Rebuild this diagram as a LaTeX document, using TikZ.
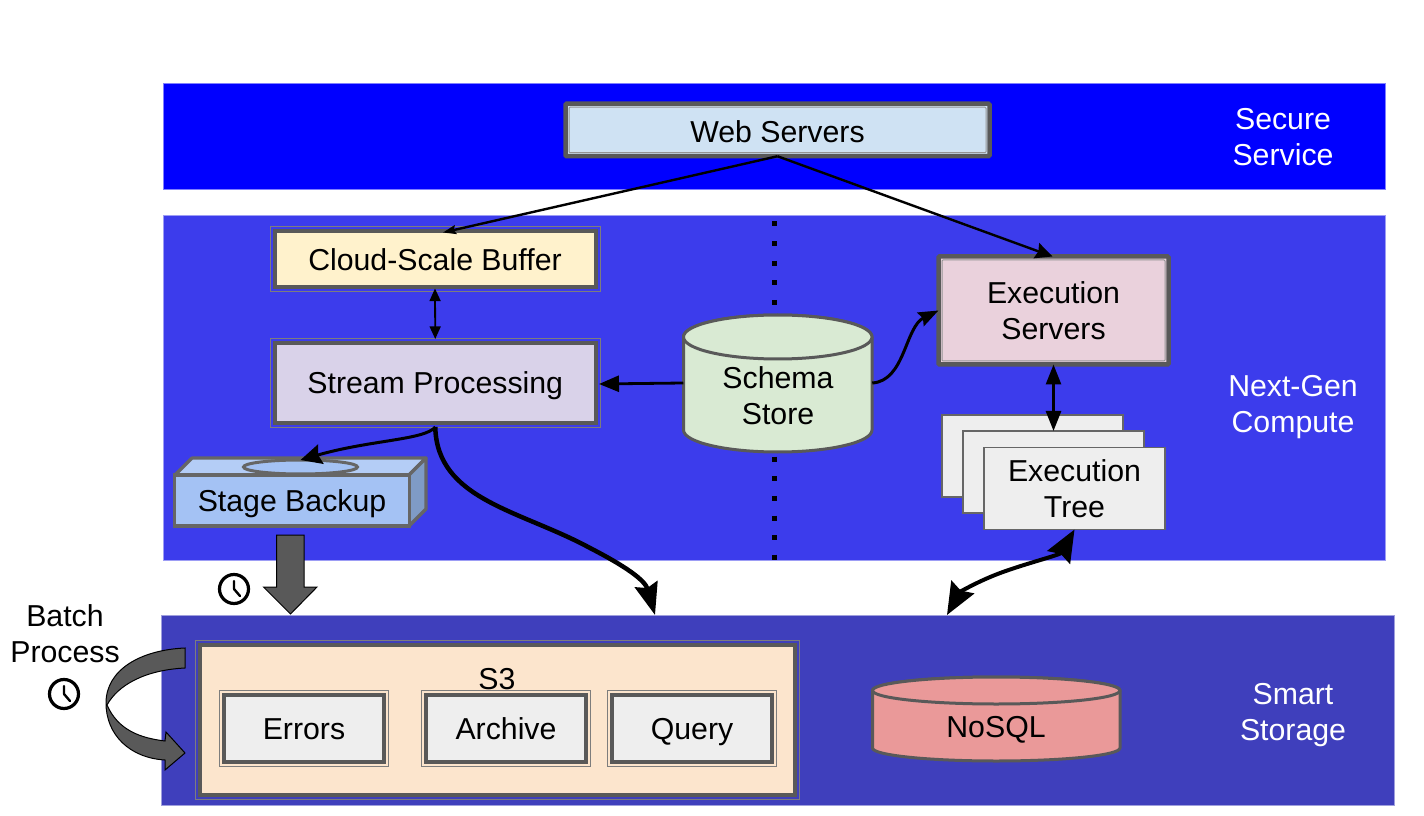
\documentclass[tikz,border=0pt]{standalone}
\usepackage{fontspec}
\setmainfont{Liberation Sans}
\usetikzlibrary{arrows.meta,shapes.geometric}
\newdimen\px \px=0.75pt
\definecolor{dgrey}{HTML}{595959}
\definecolor{mgrey}{HTML}{666666}
\definecolor{layerA}{HTML}{0000FF}
\definecolor{layerB}{HTML}{3C3CEC}
\definecolor{layerC}{HTML}{3F3FBC}
\definecolor{webc}{HTML}{CFE2F3}
\definecolor{cloudc}{HTML}{FFF2CC}
\definecolor{streamc}{HTML}{D9D2E9}
\definecolor{schemac}{HTML}{D9EAD3}
\definecolor{execc}{HTML}{EAD1DC}
\definecolor{treec}{HTML}{EEEEEE}
\definecolor{stagec}{HTML}{A4C2F4}
\definecolor{stagetop}{HTML}{B4CDF6}
\definecolor{stageside}{HTML}{7F9BC6}
\definecolor{sthreec}{HTML}{FCE5CD}
\definecolor{nosqlc}{HTML}{EA9999}
\tikzset{
  x=0.75pt,y=-0.75pt,
  txt/.style={font=\fontsize{22.7}{27}\selectfont,align=center,text=black,inner sep=0pt,outer sep=0pt},
  oneline/.style={text height=22\px,text depth=0pt},
  layer/.style={rectangle,inner sep=0pt,outer sep=0pt,draw=white!50!#1,line width=0.8\px,fill=#1},
  laytext/.style={txt,text=white},
  thickout/.style={txt,rectangle,draw=dgrey,line width=4.5\px,rounded corners=1\px,
    path picture={\draw[draw=#1,line width=3\px]
      (path picture bounding box.north west) rectangle (path picture bounding box.south east);
      \draw[draw=mgrey!70,line width=1\px]
      ([shift={(3.5\px,-3.5\px)}]path picture bounding box.north west) rectangle ([shift={(-3.5\px,3.5\px)}]path picture bounding box.south east);}},
  rimmed/.style={txt,rectangle,
    preaction={draw=mgrey!85,line width=10\px,fill=none},
    preaction={draw=#1,line width=8\px,fill=none},
    draw=dgrey,line width=4\px},
  sheet/.style={txt,rectangle,draw=mgrey,line width=1.6\px,fill=treec},
  cyl/.style={draw=dgrey,line width=3\px,fill=#1,line join=round},
  stagefaces/.style={draw=mgrey,line width=3.2\px,line join=round},
  blockarrow/.style={draw=black,line width=1\px,fill=dgrey,line join=miter},
  conn/.style={draw=black,line width=#1,line cap=butt},
  clockface/.style={draw=black,line width=3.2\px,fill=white},
  clockhand/.style={draw=black,line width=2.4\px,line cap=round},
}
\begin{document}
\begin{tikzpicture}
\useasboundingbox (0,0) rectangle (1424,816);
% layers
\node[layer=layerA,minimum width=1222\px,minimum height=106\px] (layerone) at (774,136) {};
\node[layer=layerB,minimum width=1222\px,minimum height=345\px] (layertwo) at (774,387.5) {};
\node[layer=layerC,minimum width=1233\px,minimum height=190\px] (layerthree) at (777.5,710) {};
\node[laytext] (secure) at (1283,137) {Secure\\Service};
\node[laytext] (nextgen) at (1293,407) {Next-Gen\\Compute};
\node[laytext] (smart) at (1293,715) {Smart\\Storage};
% dotted divider
\coordinate (dottop) at (774,221.5);
\coordinate (dotbot) at (774,561);
\draw[draw=black,line width=5\px,dash pattern=on 5\px off 14.6\px] (dottop) -- (dotbot);
% boxes
\node[thickout=webc,fill=webc,oneline,text height=26\px,minimum width=424\px,minimum height=52.5\px] (web) at (777.5,130) {Web Servers};
\node[rimmed=layerB,fill=cloudc,oneline,minimum width=321\px,minimum height=56\px] (cloud) at (435,259.5) {Cloud-Scale Buffer};
\node[rimmed=layerB,fill=streamc,oneline,minimum width=321.5\px,minimum height=80\px] (stream) at (435.25,383) {Stream Processing};
\node[thickout=execc,fill=execc,minimum width=230\px,minimum height=108\px] (exec) at (1053.5,310.5) {Execution\\Servers};
% schema store cylinder
\draw[cyl=schemac] (683.5,337) -- (683.5,430) arc[start angle=180,end angle=0,x radius=94.25,y radius=22]
  -- (872,337) arc[start angle=0,end angle=180,x radius=94.25,y radius=-22] -- cycle;
\draw[cyl=schemac] (777.75,337) ellipse[x radius=94.25,y radius=22];
\node[txt] (schema) at (778,396) {Schema\\Store};
\node[inner sep=0pt,outer sep=0pt,minimum width=189\px,minimum height=100\px] (schemabody) at (777.75,383) {};
% execution tree stack
\node[sheet,minimum width=181\px,minimum height=82\px] (treeback) at (1032.5,456) {};
\node[sheet,minimum width=181\px,minimum height=82\px] (treemid) at (1053.5,472) {};
\node[sheet,minimum width=181\px,minimum height=82\px] (tree) at (1074.5,488.5) {Execution\\Tree};
% stage backup
\draw[stagefaces,fill=stagetop] (175,475) -- (192,458) -- (426,458) -- (409,475) -- cycle;
\draw[stagefaces,fill=stageside] (409,475) -- (426,458) -- (426,509) -- (409,526) -- cycle;
\node[txt,rectangle,oneline,draw=mgrey,line width=3.2\px,fill=stagec,minimum width=235\px,minimum height=51\px] (stage) at (292,500.5) {Stage Backup};
\node[ellipse,draw=mgrey,line width=3\px,fill=stagec,inner sep=0pt,outer sep=0pt,minimum width=114\px,minimum height=14\px] (stagetopell) at (300.5,467) {};
% storage
\node[rimmed=layerC,fill=sthreec,minimum width=595.5\px,minimum height=150\px] (sthree) at (497.25,719.5) {};
\node[txt,oneline] (sthreelab) at (497,678) {S3};
\node[rimmed=sthreec,fill=treec,oneline,minimum width=160.5\px,minimum height=67\px] (errors) at (304,728.5) {Errors};
\node[rimmed=sthreec,fill=treec,oneline,minimum width=160.5\px,minimum height=67\px] (archive) at (506,728.5) {Archive};
\node[rimmed=sthreec,fill=treec,oneline,minimum width=160.5\px,minimum height=67\px] (query) at (692,728.5) {Query};
% nosql
\draw[cyl=nosqlc] (872.5,690.5) -- (872.5,748) arc[start angle=180,end angle=0,x radius=123.75,y radius=13]
  -- (1120,690.5) arc[start angle=0,end angle=180,x radius=123.75,y radius=-13.5] -- cycle;
\draw[cyl=nosqlc] (996.25,690.5) ellipse[x radius=123.75,y radius=13.5];
\node[txt,oneline] (nosql) at (996,726) {NoSQL};
% connectors
\draw[conn=2.4\px,-{Stealth[length=9.75pt,width=6.75pt,inset=1.5pt]}] (web.south) -- ([xshift=8\px,yshift=-1\px]cloud.north);
\draw[conn=2.4\px,-{Stealth[length=12.75pt,width=12pt,inset=1.5pt]}] (web.south) -- ([xshift=-1\px]exec.north);
\draw[conn=1.8\px,{Triangle[length=9.5pt,width=8.25pt]}-{Triangle[length=9.5pt,width=8.25pt]}] ([yshift=-1\px]cloud.south) -- ([yshift=4\px]stream.north);
\draw[conn=2.8\px,-{Triangle[length=15pt,width=12pt]}] (schemabody.west) -- ([xshift=3\px,yshift=-1\px]schemabody.west -| stream.east);
\draw[conn=3\px,-{Stealth[length=15pt,width=11.25pt,inset=2pt]}] (schemabody.east) .. controls (905,381) and (905,327) .. (exec.west);
\draw[conn=2.8\px,{Triangle[length=15pt,width=11.25pt]}-{Triangle[length=15pt,width=11.25pt]}] (exec.south) -- (treemid.north);
\draw[conn=3\px,-{Stealth[length=15.75pt,width=15pt,inset=2pt]}] ([yshift=-4\px]stream.south) .. controls (425,440) and (370,440) .. (stagetopell.north);
\draw[conn=4.5\px,-{Stealth[length=24pt,width=17.5pt,inset=3pt]}] ([yshift=-4\px]stream.south) .. controls (437,500) and (520,510) .. (590,548) .. controls (625,566) and (645,580) .. ([xshift=-122.5\px]layerthree.north);
\draw[conn=4\px,{Stealth[length=24pt,width=19.5pt,inset=3pt]}-{Stealth[length=24pt,width=19.5pt,inset=3pt]}] (tree.south) .. controls (1060,555) and (1020,565) .. (995,575) .. controls (975,583) and (960,592) .. ([xshift=169.5\px]layerthree.north);
% block arrow down
\draw[blockarrow] (276.5,535) -- (304,535) -- (304,587) -- (317,587) -- (290.5,614) -- (263.5,587) -- (276.5,587) -- cycle;
% curved block arrow
\draw[blockarrow] (185,648) .. controls (140,650) and (106,670) .. (106,703)
  .. controls (106,735) and (130,758) .. (165,760) -- (165,770) -- (185,753) -- (166,732) -- (165,741)
  .. controls (140,738) and (118,730) .. (107,705)
  .. controls (118,685) and (145,670) .. (185,668) -- cycle;
% clocks
\node[circle,clockface,minimum width=29\px,inner sep=0pt] (clockone) at (234,589) {};
\draw[clockhand] (clockone.center) -- ++(0,-8) (clockone.center) -- ++(6,7);
\node[circle,clockface,minimum width=29\px,inner sep=0pt] (clocktwo) at (64,694) {};
\draw[clockhand] (clocktwo.center) -- ++(0,-8) (clocktwo.center) -- ++(6,7);
\node[txt] (batch) at (65,634) {Batch\\Process};
\end{tikzpicture}
\end{document}
